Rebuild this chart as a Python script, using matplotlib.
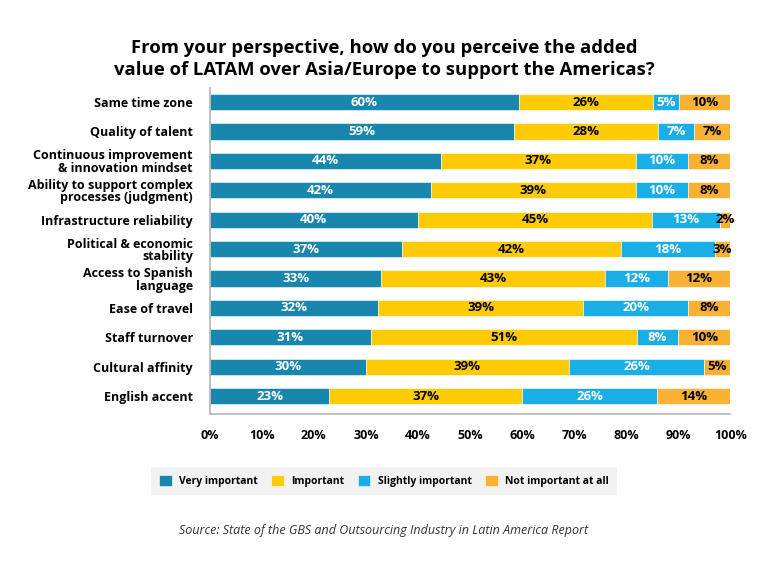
import numpy as np
import matplotlib
matplotlib.use("Agg")
import matplotlib.pyplot as plt

plt.rcParams["font.family"] = ["Open Sans", "DejaVu Sans"]

categories = [
    "Same time zone",
    "Quality of talent",
    "Continuous improvement\n& innovation mindset",
    "Ability to support complex\nprocesses (judgment)",
    "Infrastructure reliability",
    "Political & economic\nstability",
    "Access to Spanish\nlanguage",
    "Ease of travel",
    "Staff turnover",
    "Cultural affinity",
    "English accent",
]
very_important = [60, 59, 44, 42, 40, 37, 33, 32, 31, 30, 23]
important = [26, 28, 37, 39, 45, 42, 43, 39, 51, 39, 37]
slightly_important = [5, 7, 10, 10, 13, 18, 12, 20, 8, 26, 26]
not_important = [10, 7, 8, 8, 2, 3, 12, 8, 10, 5, 14]
series_names = ["Very important", "Important", "Slightly important", "Not important at all"]
colors = ["#1787ad", "#ffcb05", "#1aaee6", "#f8b133"]
text_colors = ["white", "black", "white", "black"]
tick_values = [0, 10, 20, 30, 40, 50, 60, 70, 80, 90, 100]

series = np.array([very_important, important, slightly_important, not_important], dtype=float)
totals = series.sum(axis=0)
widths = series / totals * 100

fig = plt.figure(figsize=(7.68, 5.67), dpi=100)
ax = fig.add_axes([0.273, 0.270, 0.678, 0.575])

y = np.arange(len(categories))
left = np.zeros(len(categories))
for i, name in enumerate(series_names):
    bars = ax.barh(y, widths[i], left=left, height=0.55, color=colors[i],
                   edgecolor="white", linewidth=0.4, label=name)
    for j, b in enumerate(bars):
        ax.text(left[j] + widths[i][j] / 2, y[j], f"{int(series[i][j])}%",
                ha="center", va="center", color=text_colors[i],
                fontsize=9.5, fontweight="bold")
    left += widths[i]

ax.set_xlim(0, 100)
ax.set_ylim(len(categories) - 0.4, -0.48)
ax.set_yticks(y)
ax.set_yticklabels(categories, fontsize=9, fontweight="bold", linespacing=0.95)
ax.set_xticks(tick_values)
ax.set_xticklabels([f"{v}%" for v in tick_values], fontsize=9, fontweight="bold")
ax.tick_params(axis="both", length=0)
ax.tick_params(axis="x", pad=11)
ax.tick_params(axis="y", pad=12)
for s in ["top", "right"]:
    ax.spines[s].set_visible(False)
for s in ["left", "bottom"]:
    ax.spines[s].set_color("#b5b5b5")
    ax.spines[s].set_linewidth(1.2)

fig.text(0.5, 0.896, "From your perspective, how do you perceive the added\nvalue of LATAM over Asia/Europe to support the Americas?",
         ha="center", va="center", fontsize=13.3, fontweight="bold", linespacing=1.35)

leg = fig.legend(loc="center", bbox_to_anchor=(0.5, 0.152), ncol=4, frameon=True,
                 prop={"weight": "bold", "size": 7.5},
                 handlelength=1.2, handleheight=1.2, columnspacing=1.3,
                 borderpad=0.8, handletextpad=0.7, fancybox=False)
leg.get_frame().set_facecolor("#efefef")
leg.get_frame().set_edgecolor("none")

fig.text(0.5, 0.064, "Source: State of the GBS and Outsourcing Industry in Latin America Report",
         ha="center", va="center", fontsize=9, style="italic", color="#333333")

fig.savefig("out.png", dpi=100)
